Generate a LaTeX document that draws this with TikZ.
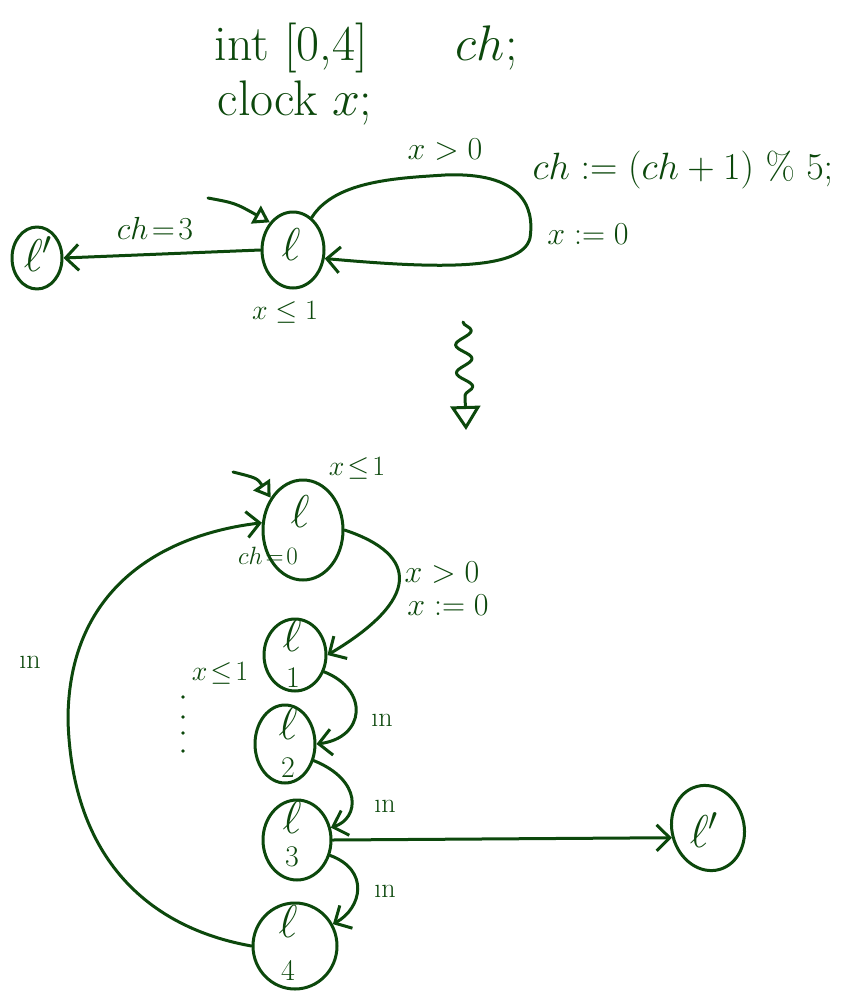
\RequirePackage{fix-cm}
\documentclass[tikz,border=0pt]{standalone}
\usetikzlibrary{arrows.meta,shapes.geometric,decorations.pathmorphing}
\definecolor{ink}{RGB}{12,72,12}
\begin{document}
\begin{tikzpicture}[x=1pt,y=-1pt, line width=3pt, draw=ink, text=ink,
  loc/.style={draw, ellipse, inner sep=0pt},
  big/.style={font=\fontsize{50}{54}\selectfont, anchor=base west},
  lab/.style={font=\fontsize{32}{34}\selectfont},
  sml/.style={font=\fontsize{28}{30}\selectfont},
  lname/.style={font=\fontsize{46}{48}\selectfont},
  idx/.style={font=\fontsize{30}{32}\selectfont},
  tip/.style={-{Straight Barb[length=13pt,width=26pt,line width=3pt]}},
  init/.style={-{Triangle[open,length=16pt,width=20pt,line width=3pt]}},
  line cap=round, line join=round]
\useasboundingbox (0,0) rectangle (846,991);

% declarations
\node[big] (decl1) at (210,60) {int [0,4]\hspace{88pt}$ch$;};
\node[big] (decl2) at (213,115) {clock\hspace{14pt}$x$;};

% top automaton
\node[loc, minimum width=62pt, minimum height=76pt] (l) at (293,250) {};
\node[lname] (lt) at (291,245) {$\ell$};
\node[loc, minimum width=50pt, minimum height=62pt] (lp) at (37,258) {};
\node[lname] (lpt) at (38,254) {$\ell'$};
\coordinate (i1) at (208,198);
\draw[init] (i1) .. controls (235,203) .. (l.130);
\draw[tip] (l.west) -- (lp.east);
\node[lab] (g1) at (155,228) {$ch\!=\!3$};
\draw[tip] (l.60) .. controls (335,180) and (400,178) .. (445,175)
  .. controls (520,172) and (535,205) .. (530,238)
  .. controls (522,272) and (430,268) .. (l.-15);
\node[lab] (g2) at (445,150) {$x>0$};
\node[font=\fontsize{38}{40}\selectfont] (u1) at (683,170) {$ch := (ch+1)\ \%\ 5;$};
\node[lab] (u2) at (588,234) {$x := 0$};
\node[sml] (inv1) at (285,312) {$x \le 1$};

% squiggly arrow
\coordinate (sq1) at (463,322);
\coordinate (sq2) at (466,430);
\draw[decorate, decoration={snake, amplitude=8pt, segment length=28pt, post length=26pt},
  -{Triangle[open,length=24pt,width=30pt,line width=3pt]}] (sq1) -- (sq2);

% bottom automaton
\node[loc, minimum width=80pt, minimum height=100pt] (b0) at (303,530) {};
\node[lname] (b0t) at (300,512) {$\ell$};
\node[font=\fontsize{25}{27}\selectfont] (b0c) at (268,556) {$ch\!=\!0$};
\node[sml] (b0inv) at (357,468) {$x\!\le\!1$};
\coordinate (i2) at (233,472);
\draw[init] (i2) .. controls (257,478) .. (b0.135);

\node[loc, minimum width=62pt, minimum height=72pt] (b1) at (295,655) {};
\node[lname] (b1t) at (292,636) {$\ell$};
\node[idx] (b1i) at (293,678) {1};

\node[loc, minimum width=60pt, minimum height=78pt] (b2) at (285,744) {};
\node[lname] (b2t) at (288,724) {$\ell$};
\node[idx] (b2i) at (288,768) {2};

\node[loc, minimum width=68pt, minimum height=80pt] (b3) at (297,840) {};
\node[lname] (b3t) at (292,818) {$\ell$};
\node[idx] (b3i) at (292,857) {3};

\node[loc, minimum width=84pt, minimum height=86pt] (b4) at (295,946) {};
\node[lname] (b4t) at (288,922) {$\ell$};
\node[idx] (b4i) at (288,970) {4};

\node[loc, minimum width=72pt, minimum height=86pt, rotate=15] (bp) at (708,828) {};
\node[lname] (bpt) at (704,830) {$\ell'$};

\draw[tip] (b0.east) .. controls (420,555) and (420,600) .. (b1.east);
\node[lab] (g3) at (442,573) {$x>0$};
\node[lab] (u3) at (448,605) {$x := 0$};

\draw[tip] (b1.-30) .. controls (370,690) and (365,738) .. (b2.east);
\draw[tip] (b2.-30) .. controls (362,780) and (360,818) .. (b3.20);
\draw[tip] (b3.-25) .. controls (370,870) and (362,908) .. (b4.30);
\node[sml] (d1) at (382,720) {\i n};
\node[sml] (d2) at (385,806) {\i n};
\node[sml] (d3) at (385,891) {\i n};
\node[sml] (d4) at (30,662) {\i n};
\node[sml] (inv2) at (220,673) {$x\!\le\!1$};
\foreach \yy in {697,717,733,751} \fill[ink] (183,\yy) circle (1.8pt);

\draw[tip] (b4.west) .. controls (150,928) and (72,860) .. (68,720)
  .. controls (68,590) and (160,535) .. (b0.170);
\draw[tip] (b3.east) -- (bp.west);
\end{tikzpicture}
\end{document}
